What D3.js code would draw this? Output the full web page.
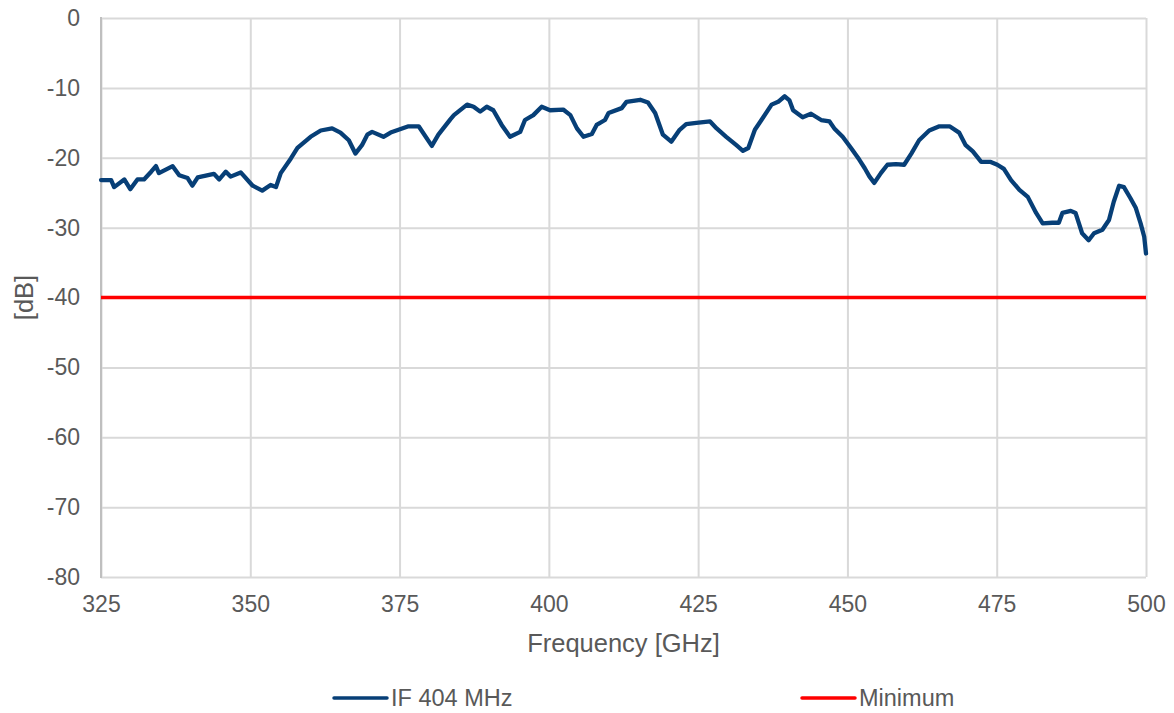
<!DOCTYPE html>
<html lang="en">
<head>
<meta charset="utf-8">
<script src="https://d3js.org/d3.v7.min.js"></script>
<style type="text/css">
body {
    margin: 0;
    background: #fff;
    font-family: "Liberation Sans", Arial, sans-serif;
}
.grid line {
    stroke: #d9d9d9;
    stroke-width: 2;
}
.grid .domain {
    display: none;
}
.tick text {
    fill: #595959;
    font-size: 23px;
    font-family: "Liberation Sans", Arial, sans-serif;
}
.label {
    fill: #595959;
    font-size: 25.5px;
}
.legend text {
    fill: #595959;
    font-size: 23.5px;
}
</style>
</head>
<body>
<div id="chart"></div>
<script type="text/javascript">

// measured curve, IF 404 MHz
var freq = [325.0, 326.7, 327.2, 328.9, 329.9, 331.1, 332.2, 333.4, 334.2, 334.7,
    337.0, 338.1, 339.5, 340.3, 341.2, 343.9, 344.8, 345.9, 346.7, 348.4,
    350.4, 352.0, 353.4, 354.3, 355.1, 356.8, 357.9, 360.1, 361.8, 363.7,
    365.1, 366.5, 367.6, 368.7, 369.6, 370.4, 372.3, 373.5, 376.5, 378.2,
    380.4, 381.5, 383.5, 384.1, 386.3, 387.4, 388.5, 389.6, 390.7, 392.1,
    393.5, 395.2, 396.0, 397.4, 398.8, 400.2, 402.4, 403.6, 404.7, 405.8,
    407.2, 408.0, 409.4, 410.0, 412.2, 413.0, 415.3, 416.6, 417.8, 419.1,
    420.5, 421.9, 423.0, 424.7, 427.0, 428.1, 429.7, 431.4, 432.5, 433.4,
    434.5, 435.6, 437.3, 438.4, 439.5, 440.3, 440.9, 442.5, 443.9, 445.6,
    447.0, 447.8, 449.2, 450.6, 452.0, 452.9, 453.7, 454.5, 455.6, 456.7,
    458.1, 459.5, 460.7, 462.0, 463.7, 465.4, 467.1, 468.7, 469.8, 471.0,
    472.4, 474.0, 475.1, 476.2, 477.4, 478.8, 480.2, 481.6, 482.7, 484.3,
    485.4, 486.0, 487.4, 488.2, 489.3, 490.4, 491.3, 492.7, 493.8, 494.6,
    495.5, 496.3, 497.4, 498.3, 499.1, 499.7, 500.0];
var ifLevel = [-23.2, -23.2, -24.2, -23.1, -24.5, -23.1, -23.1, -22.0, -21.2, -22.2,
    -21.2, -22.5, -22.9, -24.0, -22.8, -22.3, -23.1, -22.0, -22.7, -22.1,
    -24.0, -24.7, -23.9, -24.2, -22.2, -20.1, -18.6, -17.0, -16.1, -15.8,
    -16.4, -17.5, -19.4, -18.2, -16.7, -16.3, -17.0, -16.4, -15.5, -15.5,
    -18.3, -16.7, -14.5, -13.9, -12.4, -12.7, -13.4, -12.7, -13.2, -15.3,
    -17.0, -16.3, -14.6, -13.9, -12.7, -13.2, -13.1, -13.9, -15.8, -17.0,
    -16.6, -15.3, -14.6, -13.6, -12.9, -12.0, -11.7, -12.1, -13.6, -16.7,
    -17.7, -16.0, -15.2, -15.0, -14.8, -15.8, -17.0, -18.2, -19.0, -18.6,
    -16.0, -14.6, -12.4, -12.0, -11.2, -11.8, -13.2, -14.2, -13.7, -14.6,
    -14.8, -15.8, -17.0, -18.6, -20.3, -21.5, -22.7, -23.6, -22.2, -21.0,
    -20.9, -21.0, -19.4, -17.5, -16.1, -15.5, -15.5, -16.4, -18.2, -19.1,
    -20.6, -20.6, -21.0, -21.6, -23.2, -24.6, -25.6, -27.9, -29.4, -29.3,
    -29.3, -27.9, -27.6, -27.9, -30.8, -31.8, -30.8, -30.3, -28.9, -26.3,
    -24.0, -24.2, -25.8, -27.2, -29.4, -31.3, -33.7];

// requirement line
var minFreq = [325, 500];
var minLevel = [-40, -40];

var xTicks = [325, 350, 375, 400, 425, 450, 475, 500];
var yTicks = [0, -10, -20, -30, -40, -50, -60, -70, -80];

var seriesNames = ["IF 404 MHz", "Minimum"];
var seriesColors = ["#073f77", "#ff0000"];

var width = 1174;
var height = 713;
var plotLeft = 101, plotRight = 1146, plotTop = 18, plotBottom = 577;

var x = d3.scaleLinear().domain([325, 500]).range([plotLeft, plotRight]);
var y = d3.scaleLinear().domain([-80, 0]).range([plotBottom, plotTop]);

var svg = d3.select("#chart")
    .append("svg")
    .attr("width", width)
    .attr("height", height);

// grid lines
svg.append("g")
    .attr("class", "grid")
    .attr("transform", "translate(0," + plotBottom + ")")
    .call(d3.axisBottom(x).tickValues(xTicks).tickSize(-(plotBottom - plotTop)).tickFormat(""));

svg.append("g")
    .attr("class", "grid")
    .attr("transform", "translate(" + plotLeft + ",0)")
    .call(d3.axisLeft(y).tickValues(yTicks).tickSize(-(plotRight - plotLeft)).tickFormat(""));

// left axis line
svg.append("line")
    .attr("x1", plotLeft).attr("x2", plotLeft)
    .attr("y1", plotTop - 1).attr("y2", plotBottom + 1)
    .attr("stroke", "#bfbfbf")
    .attr("stroke-width", 2);

// tick labels (plain hyphen for negatives, like the original)
var xAxis = svg.append("g")
    .attr("transform", "translate(0," + plotBottom + ")")
    .call(d3.axisBottom(x).tickValues(xTicks).tickSize(0).tickPadding(19)
        .tickFormat(function(d) { return String(d); }));
xAxis.select(".domain").remove();

var yAxis = svg.append("g")
    .attr("transform", "translate(" + plotLeft + ",0)")
    .call(d3.axisLeft(y).tickValues(yTicks).tickSize(0).tickPadding(21)
        .tickFormat(function(d) { return String(d); }));
yAxis.select(".domain").remove();

svg.append("text")
    .attr("class", "label")
    .attr("x", (plotLeft + plotRight) / 2)
    .attr("y", 652)
    .attr("text-anchor", "middle")
    .text("Frequency [GHz]");

svg.append("text")
    .attr("class", "label")
    .attr("transform", "translate(33," + ((plotTop + plotBottom) / 2) + ") rotate(-90)")
    .attr("text-anchor", "middle")
    .text("[dB]");

// series
var line = d3.line()
    .x(function(d) { return x(d[0]); })
    .y(function(d) { return y(d[1]); });

svg.append("path")
    .datum(minFreq.map(function(f, i) { return [f, minLevel[i]]; }))
    .attr("d", line)
    .attr("fill", "none")
    .attr("stroke", seriesColors[1])
    .attr("stroke-width", 3.5);

svg.append("path")
    .datum(freq.map(function(f, i) { return [f, ifLevel[i]]; }))
    .attr("d", line)
    .attr("fill", "none")
    .attr("stroke", seriesColors[0])
    .attr("stroke-width", 4.3)
    .attr("stroke-linejoin", "round")
    .attr("stroke-linecap", "round");

// legend
var legendX = [334, 802];
var legend = svg.append("g")
    .attr("class", "legend")
    .selectAll("g")
    .data(seriesNames)
    .enter()
    .append("g")
    .attr("transform", function(d, i) { return "translate(" + legendX[i] + ",698)"; });

legend.append("line")
    .attr("x1", 0).attr("x2", 53)
    .attr("stroke", function(d, i) { return seriesColors[i]; })
    .attr("stroke-width", 3.5)
    .attr("stroke-linecap", "round");

legend.append("text")
    .attr("x", 57)
    .attr("y", 8)
    .text(function(d) { return d; });

</script>
</body>
</html>
